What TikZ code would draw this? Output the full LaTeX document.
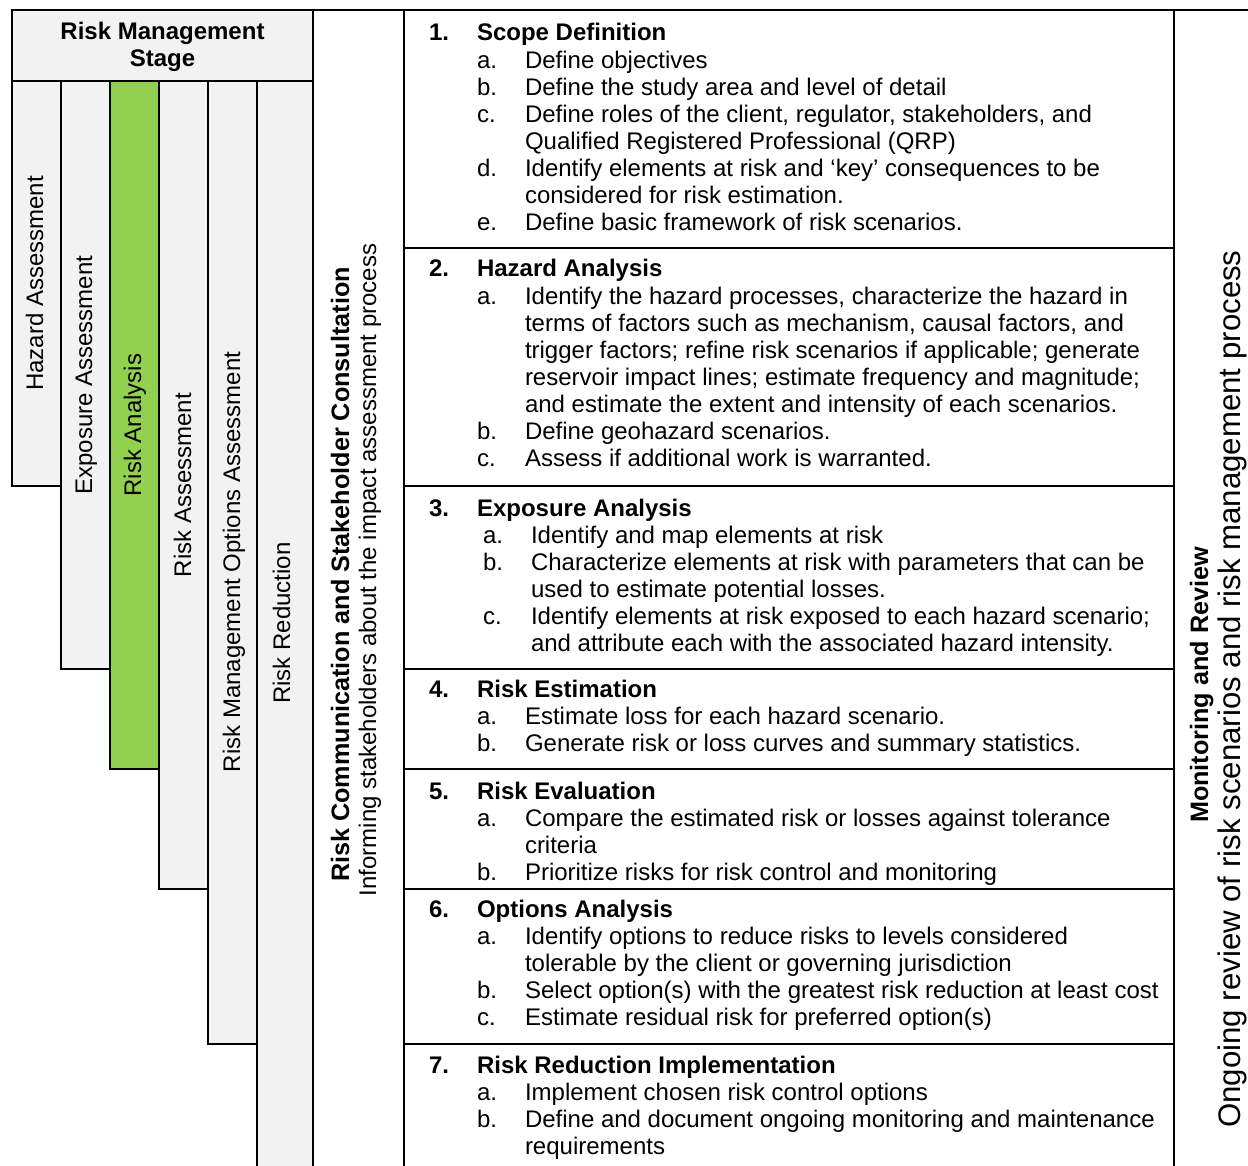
\documentclass[tikz,border=0pt]{standalone}
\usepackage{fontspec}
\setmainfont{Liberation Sans}
\usepackage{array}
\definecolor{cellgray}{HTML}{F2F2F2}
\definecolor{rmgreen}{HTML}{92D050}
\newcommand{\secttab}[1]{\begin{tabular}[t]{@{}p{24pt}@{}p{24pt}@{}l@{}}#1\end{tabular}}
\newcommand{\stitle}[2]{\textbf{#1} & \multicolumn{2}{@{}l@{}}{\textbf{#2}}}
\begin{document}
\fontsize{12}{13.55}\selectfont
\begin{tikzpicture}[x=0.5pt,y=-0.5pt,line width=1pt,
  cell/.style={draw=black,fill=cellgray},
  greencell/.style={draw=black,fill=rmgreen},
  vlab/.style={rotate=90,anchor=base,inner sep=0pt},
  vbold/.style={vlab,font=\fontsize{12.6}{14}\selectfont\bfseries},
  hlab/.style={anchor=base,inner sep=0pt,font=\bfseries},
  sect/.style={anchor=base west,inner sep=0pt}]
\useasboundingbox (0,0) rectangle (1248,1166);
\clip (0,0) rectangle (1248,1166);

% header
\filldraw[cell] (12,10) rectangle (313,81);
\node[hlab] (hdrA) at (162.5,40) {Risk Management};
\node[hlab] (hdrB) at (162.5,67) {Stage};

% stage columns
\filldraw[cell] (12,81) rectangle (61,486);
\filldraw[cell] (61,81) rectangle (110,669);
\filldraw[greencell] (110,81) rectangle (159,769);
\filldraw[cell] (159,81) rectangle (208,889);
\filldraw[cell] (208,81) rectangle (257,1044);
\filldraw[cell] (257,81) rectangle (313,1200);

\node[vlab] (colA) at (43,283.5) {Hazard Assessment};
\node[vlab] (colB) at (92,375) {Exposure Assessment};
\node[vlab] (colC) at (141,425) {Risk Analysis};
\node[vlab] (colD) at (191,485) {Risk Assessment};
\node[vlab] (colE) at (240,562) {Risk Management Options Assessment};
\node[vlab] (colF) at (290,623) {Risk Reduction};

% frame lines
\draw (12,10) -- (1248,10);
\draw (404,10) -- (404,1200);
\draw (1174,10) -- (1174,1200);
\foreach \yy in {248,486,669,769,889,1044} {\draw (404,\yy) -- (1174,\yy);}

% side labels
\node[vbold] (rcA) at (349,574.5) {Risk Communication and Stakeholder Consultation};
\node[vlab] (rcB) at (376,570) {Informing stakeholders about the impact assessment process};
\node[vbold] (mrA) at (1208,685) {Monitoring and Review};
\node[vlab,font=\fontsize{15.6}{17}\selectfont] (mrB) at (1240,689) {Ongoing review of risk scenarios and risk management process};

% sections
\node[sect] (secA) at (428,41) {\secttab{%
\stitle{1.}{Scope Definition}\\
& a. & Define objectives\\
& b. & Define the study area and level of detail\\
& c. & Define roles of the client, regulator, stakeholders, and\\
& & Qualified Registered Professional (QRP)\\
& d. & Identify elements at risk and ‘key’ consequences to be\\
& & considered for risk estimation.\\
& e. & Define basic framework of risk scenarios.}};

\node[sect] (secB) at (428,277) {\secttab{%
\stitle{2.}{Hazard Analysis}\\
& a. & Identify the hazard processes, characterize the hazard in\\
& & terms of factors such as mechanism, causal factors, and\\
& & trigger factors; refine risk scenarios if applicable; generate\\
& & reservoir impact lines; estimate frequency and magnitude;\\
& & and estimate the extent and intensity of each scenarios.\\
& b. & Define geohazard scenarios.\\
& c. & Assess if additional work is warranted.}};

\node[sect] (secC) at (428,516) {\secttab{%
\stitle{3.}{Exposure Analysis}\\
& \hspace{3pt}a. & \hspace{3pt}Identify and map elements at risk\\
& \hspace{3pt}b. & \hspace{3pt}Characterize elements at risk with parameters that can be\\
& & \hspace{3pt}used to estimate potential losses.\\
& \hspace{3pt}c. & \hspace{3pt}Identify elements at risk exposed to each hazard scenario;\\
& & \hspace{3pt}and attribute each with the associated hazard intensity.}};

\node[sect] (secD) at (428,697) {\secttab{%
\stitle{4.}{Risk Estimation}\\
& a. & Estimate loss for each hazard scenario.\\
& b. & Generate risk or loss curves and summary statistics.}};

\node[sect] (secE) at (428,799) {\secttab{%
\stitle{5.}{Risk Evaluation}\\
& a. & Compare the estimated risk or losses against tolerance\\
& & criteria\\
& b. & Prioritize risks for risk control and monitoring}};

\node[sect] (secF) at (428,917) {\secttab{%
\stitle{6.}{Options Analysis}\\
& a. & Identify options to reduce risks to levels considered\\
& & tolerable by the client or governing jurisdiction\\
& b. & Select option(s) with the greatest risk reduction at least cost\\
& c. & Estimate residual risk for preferred option(s)}};

\node[sect] (secG) at (428,1073) {\secttab{%
\stitle{7.}{Risk Reduction Implementation}\\
& a. & Implement chosen risk control options\\
& b. & Define and document ongoing monitoring and maintenance\\
& & requirements}};
\end{tikzpicture}
\end{document}
